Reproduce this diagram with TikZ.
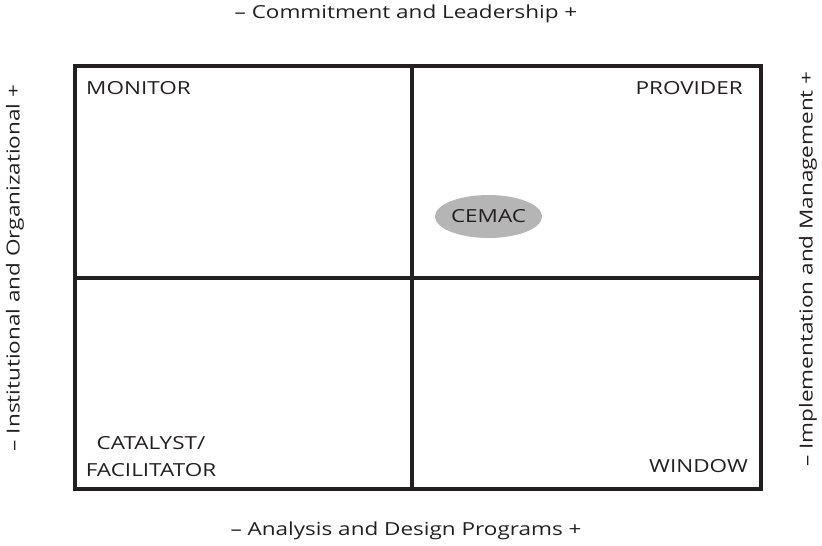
\documentclass[tikz,border=0pt]{standalone}
\usepackage{fontspec}
\setmainfont{Open Sans}[FakeStretch=1.25]
\usepackage{tikz}
\usetikzlibrary{shapes.geometric}

\definecolor{ink}{HTML}{231F20}
\definecolor{blobgray}{HTML}{B5B5B5}

\tikzset{
	gridline/.style={draw=ink, line width=4pt},
	quadlabel/.style={text=ink, inner sep=0pt, font=\fontsize{18}{27}\selectfont},
	axislabel/.style={text=ink, inner sep=0pt, font=\fontsize{18}{22}\selectfont}
}

\begin{document}
\begin{tikzpicture}[x=1pt, y=-1pt]
	\useasboundingbox (0,0) rectangle (822,546);
	\coordinate (A1) at (74.5,66);
	\coordinate (A2) at (761,489);
	\coordinate (T) at (412,66);
	\coordinate (B) at (412,489);
	\coordinate (L) at (74.5,278);
	\coordinate (R) at (761,278);

	% the four fields
	\draw[gridline] (A1) rectangle (A2);
	\draw[gridline] (T) -- (B);
	\draw[gridline] (L) -- (R);

	% axes
	\node[axislabel] (top) at (406,14) {– Commitment and Leadership +};
	\node[axislabel] (bottom) at (406,531) {– Analysis and Design Programs +};
	\node[axislabel, rotate=90] (left) at (15,268) {– Institutional and Organizational +};
	\node[axislabel, rotate=90] (right) at (808,269) {– Implementation and Management +};

	% quadrants
	\node[quadlabel, anchor=west] (monitor) at (86,88) {MONITOR};
	\node[quadlabel, anchor=east] (provider) at (743,88) {PROVIDER};
	\node[quadlabel, align=center] (catalyst) at (151,457) {CATALYST/\\FACILITATOR};
	\node[quadlabel, anchor=east] (window) at (748,466) {WINDOW};

	\node[quadlabel, ellipse, fill=blobgray, minimum width=107pt, minimum height=43pt] (cemac) at (488.5,216.5) {CEMAC};
\end{tikzpicture}
\end{document}
